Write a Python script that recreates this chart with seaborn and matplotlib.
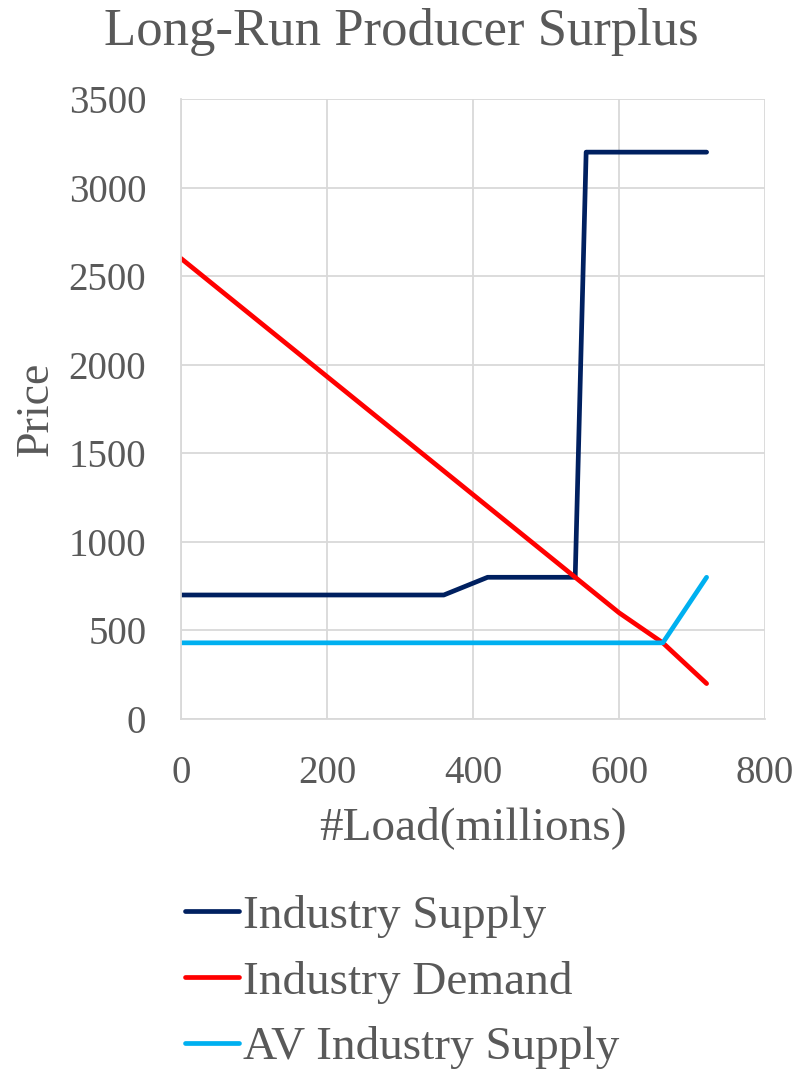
import pandas as pd
import numpy as np
import matplotlib.pyplot as plt
import seaborn as sns

# ==============================================================================
# Data
# ==============================================================================
supply_x = [0, 360, 420, 540, 555, 720]
supply_y = [700, 700, 800, 800, 3200, 3200]

demand_x = [0, 540, 600, 660, 720]
demand_y = [2600, 800, 600, 430, 200]

av_supply_x = [0, 660, 720]
av_supply_y = [430, 430, 800]

series_names = ['Industry Supply', 'Industry Demand', 'AV Industry Supply']
series_colors = ['#002060', '#FF0000', '#00B0F0']

x_ticks = [0, 200, 400, 600, 800]
y_ticks = [0, 500, 1000, 1500, 2000, 2500, 3000, 3500]

df = pd.concat([
    pd.DataFrame({'load': supply_x, 'price': supply_y, 'series': series_names[0]}),
    pd.DataFrame({'load': demand_x, 'price': demand_y, 'series': series_names[1]}),
    pd.DataFrame({'load': av_supply_x, 'price': av_supply_y, 'series': series_names[2]}),
], ignore_index=True)

# ==============================================================================
# Plot
# ==============================================================================
sns.set_style('white')
plt.rcParams['font.family'] = ['Liberation Serif', 'DejaVu Serif']
text_color = '#595959'

fig = plt.figure(figsize=(8.03, 10.77), dpi=100)
ax = fig.add_axes([181 / 803, 1 - 719 / 1077, 584 / 803, 620 / 1077])

sns.lineplot(data=df, x='load', y='price', hue='series', hue_order=series_names,
             palette=dict(zip(series_names, series_colors)), sort=False,
             estimator=None, linewidth=3.4, ax=ax, legend=False,
             solid_capstyle='round', solid_joinstyle='round')

ax.set_xlim(0, 800)
ax.set_ylim(0, 3500)
ax.set_xticks(x_ticks)
ax.set_yticks(y_ticks)
ax.grid(True, color='#D9D9D9', linewidth=1.3)
ax.set_axisbelow(True)
for side in ['top', 'right']:
    ax.spines[side].set_visible(False)
for side in ['left', 'bottom']:
    ax.spines[side].set_color('#D9D9D9')
    ax.spines[side].set_linewidth(1.3)
ax.tick_params(axis='both', length=0, labelsize=28, labelcolor=text_color)
ax.tick_params(axis='x', pad=26)
ax.tick_params(axis='y', pad=25)

ax.set_xlabel('#Load(millions)', fontsize=34, color=text_color, labelpad=10)
ax.set_ylabel('Price', fontsize=33, color=text_color, labelpad=8)
fig.text(0.5, 1 - 32 / 1077, 'Long-Run Producer Surplus', ha='center', va='center',
         fontsize=38, color=text_color)

handles = [plt.Line2D([], [], color=c, linewidth=3.4, solid_capstyle='round') for c in series_colors]
leg = fig.legend(handles, series_names, loc='upper left',
                 bbox_to_anchor=(166 / 803, 1 - 876 / 1077), frameon=False,
                 fontsize=34, handlelength=1.15, handletextpad=0.08,
                 labelspacing=0.48, borderaxespad=0)
for t in leg.get_texts():
    t.set_color(text_color)

fig.savefig('out.png', dpi=100)
plt.close(fig)
